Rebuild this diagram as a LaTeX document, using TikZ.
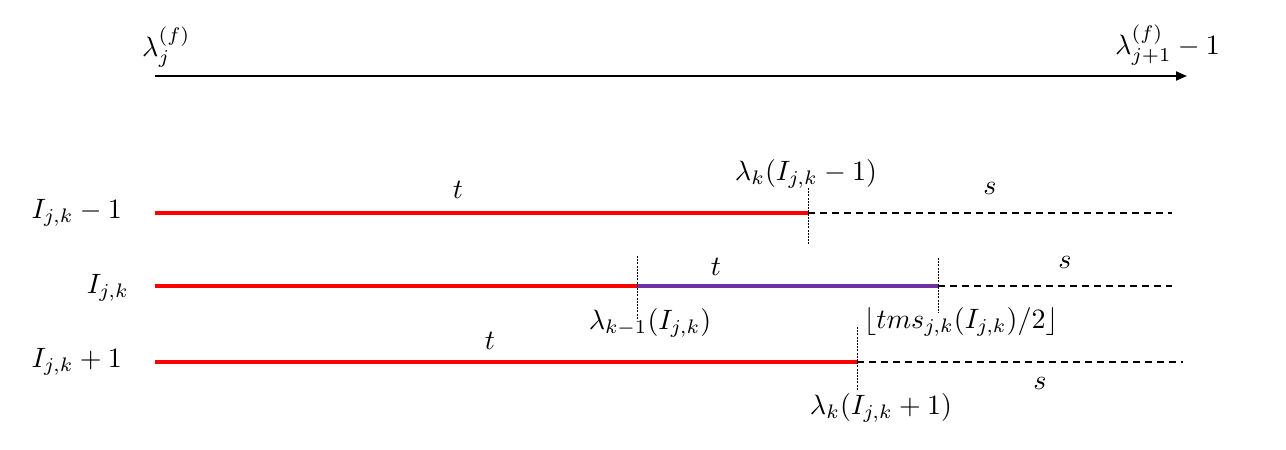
\documentclass[tikz,border=0pt]{standalone}
\usepackage{graphicx}
\usetikzlibrary{arrows.meta}
\definecolor{myred}{RGB}{255,0,0}
\definecolor{mypurple}{RGB}{112,48,160}
\newcommand{\mlab}[1]{\scalebox{2.8}{$#1$}}
\tikzset{
  redseg/.style={myred,line width=3.5pt},
  purpseg/.style={mypurple,line width=3.5pt},
  dashseg/.style={black,line width=1.3pt,dash pattern=on 7pt off 5pt},
  marker/.style={black,line width=0.7pt,dash pattern=on 2pt off 1.2pt},
  lbl/.style={inner sep=0pt},
}
\begin{document}
\begin{tikzpicture}[x=1pt,y=-1pt]
\useasboundingbox (0,0) rectangle (1286,450);
% axis
\coordinate (ax0) at (155,76);
\coordinate (ax1) at (1187,76);
\draw[line width=1.8pt,-{Triangle[length=11pt,width=9pt]}] (ax0) -- (ax1);
\node[lbl,anchor=base west] (la) at (142,56) {\mlab{\lambda_j^{(f)}}};
\node[lbl,anchor=base west] (lb) at (1115,54) {\mlab{\lambda_{j+1}^{(f)}-1}};
% row 1
\coordinate (r1a) at (155,213);
\coordinate (r1b) at (808,213);
\coordinate (r1c) at (1172,213);
\coordinate (v1t) at (808,188);
\coordinate (v1b) at (808,244);
\draw[redseg] (r1a) -- (r1b);
\draw[dashseg] (r1b) -- (r1c);
\draw[marker] (v1t) -- (v1b);
\node[lbl,anchor=east] (n1) at (122,213) {\mlab{I_{j,k}-1}};
\node[lbl] (t1) at (458,190) {\mlab{t}};
\node[lbl] (s1) at (990,188) {\mlab{s}};
\node[lbl] (m1) at (806,174) {\mlab{\lambda_k(I_{j,k}-1)}};
% row 2
\coordinate (r2a) at (155,286);
\coordinate (r2b) at (637,286);
\coordinate (r2c) at (938,286);
\coordinate (r2d) at (1172,286);
\draw[redseg] (r2a) -- (r2b);
\draw[purpseg] (r2b) -- (r2c);
\draw[dashseg] (r2c) -- (r2d);
\coordinate (v2t) at (637,256);
\coordinate (v2b) at (637,320);
\coordinate (v3t) at (938,258);
\coordinate (v3b) at (938,313);
\draw[marker] (v2t) -- (v2b);
\draw[marker] (v3t) -- (v3b);
\node[lbl,anchor=east] (n2) at (129,288) {\mlab{I_{j,k}}};
\node[lbl] (t2) at (716,267) {\mlab{t}};
\node[lbl] (s2) at (1065,262) {\mlab{s}};
\node[lbl] (m2) at (650,323) {\mlab{\lambda_{k-1}(I_{j,k})}};
\node[lbl] (m3) at (961,322) {\mlab{\lfloor tms_{j,k}(I_{j,k})/2\rfloor}};
% row 3
\coordinate (r3a) at (155,362);
\coordinate (r3b) at (857,362);
\coordinate (r3c) at (1183,362);
\draw[redseg] (r3a) -- (r3b);
\draw[dashseg] (r3b) -- (r3c);
\coordinate (v4t) at (857,327);
\coordinate (v4b) at (857,390);
\draw[marker] (v4t) -- (v4b);
\node[lbl,anchor=east] (n3) at (122,362) {\mlab{I_{j,k}+1}};
\node[lbl] (t3) at (490,341) {\mlab{t}};
\node[lbl] (s3) at (1040,383) {\mlab{s}};
\node[lbl] (m4) at (881,408) {\mlab{\lambda_k(I_{j,k}+1)}};
\end{tikzpicture}
\end{document}
